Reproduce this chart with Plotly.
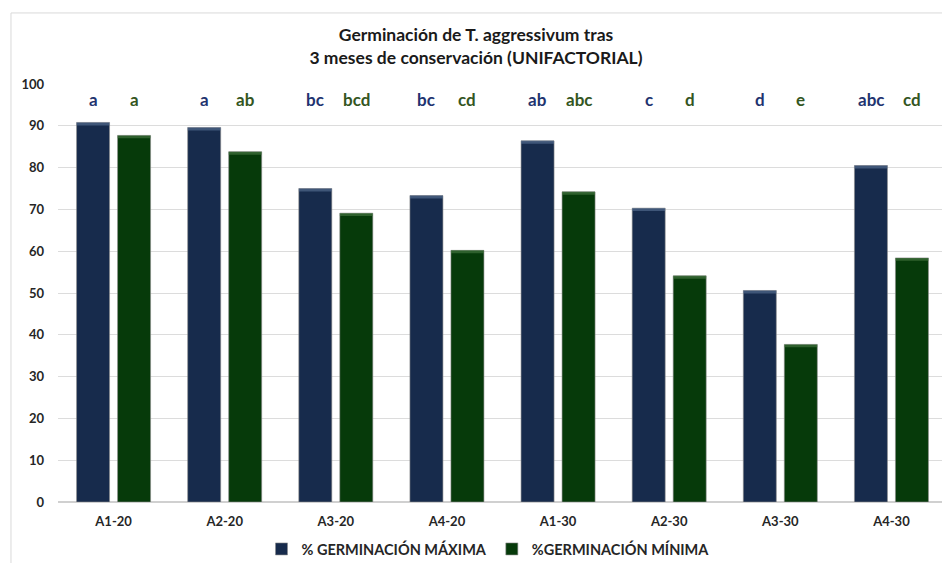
import plotly.graph_objects as go

# Treatments and germination percentages
categories = ["A1-20", "A2-20", "A3-20", "A4-20", "A1-30", "A2-30", "A3-30", "A4-30"]
germ_max = [90.8, 89.6, 75.0, 73.3, 86.4, 70.3, 50.6, 80.5]
germ_min = [87.7, 83.8, 69.1, 60.2, 74.2, 54.1, 37.7, 58.4]
letters_max = ["a", "a", "bc", "bc", "ab", "c", "d", "abc"]
letters_min = ["a", "ab", "bcd", "cd", "abc", "d", "e", "cd"]
y_ticks = [0, 10, 20, 30, 40, 50, 60, 70, 80, 90, 100]

BLUE = "#172B4C"
GREEN = "#063A0A"
BLUE_TOP = "#5A7396"
GREEN_TOP = "#4A7A45"
BLUE_TXT = "#1F3470"
GREEN_TXT = "#34561F"
FONT = "Lato"

bar_w = 0.297
gap = 0.072
off_max = -bar_w - gap / 2
off_min = gap / 2
bevel = 0.7

fig = go.Figure()
for name, vals, col, top, off in [
    ("% GERMINACIÓN MÁXIMA", germ_max, BLUE, BLUE_TOP, off_max),
    ("%GERMINACIÓN MÍNIMA", germ_min, GREEN, GREEN_TOP, off_min),
]:
    fig.add_trace(go.Bar(
        x=categories, y=vals, name=name, width=bar_w, offset=off,
        marker=dict(color=col, line=dict(color="#8C8C8C", width=0.6)),
    ))
    # lighter rim along the top of each bar
    fig.add_trace(go.Bar(
        x=categories, y=[bevel] * len(vals), base=[v - bevel for v in vals],
        width=bar_w, offset=off, showlegend=False, hoverinfo="skip",
        marker=dict(color=top, line=dict(width=0)), opacity=0.6,
    ))

# significance letters above each bar
for i, cat in enumerate(categories):
    fig.add_annotation(x=cat, y=96.4, text=f"<b>{letters_max[i]}</b>", showarrow=False,
                       xshift=(off_max + bar_w / 2) * 111, font=dict(family=FONT, size=17, color=BLUE_TXT))
    fig.add_annotation(x=cat, y=96.4, text=f"<b>{letters_min[i]}</b>", showarrow=False,
                       xshift=(off_min + bar_w / 2) * 111, font=dict(family=FONT, size=17, color=GREEN_TXT))

# chart frame (left and top edges)
fig.add_shape(type="line", xref="paper", yref="paper", x0=-0.0532, x1=-0.0532, y0=-0.2, y1=1.17,
              line=dict(color="#D9D9D9", width=1))
fig.add_shape(type="line", xref="paper", yref="paper", x0=-0.0532, x1=1.05, y0=1.17, y1=1.17,
              line=dict(color="#D9D9D9", width=1))

fig.update_layout(
    width=942, height=563,
    margin=dict(l=58, r=0, t=84, b=61, autoexpand=False),
    paper_bgcolor="white", plot_bgcolor="white",
    barmode="overlay",
    title=dict(text="<b>Germinación de T. aggressivum tras<br>3 meses de conservación (UNIFACTORIAL)</b>",
               x=476 / 942, xref="container", xanchor="center",
               y=1 - 41 / 563, yref="container", yanchor="middle",
               font=dict(family=FONT, size=17.5, color="#1A1A1A")),
    font=dict(family=FONT, color="#262626"),
    legend=dict(orientation="h", x=488 / 942, xref="container", xanchor="center",
                y=1 - 549 / 563, yref="container", yanchor="middle",
                font=dict(family=FONT, size=14.5, color="#262626", weight="bold"),
                traceorder="normal"),
    showlegend=True,
)
fig.update_xaxes(range=[-0.5, 7.455], showgrid=False, showline=False, ticks="", automargin=False,
                 tickfont=dict(family=FONT, size=13, color="#262626", weight="bold"), ticklabelstandoff=10)
fig.update_yaxes(range=[0, 100], tickvals=y_ticks, showgrid=True, gridcolor="#DCDCDC", gridwidth=1,
                 zeroline=True, zerolinecolor="#D0D0D0", showline=False, automargin=False,
                 tickfont=dict(family=FONT, size=13, color="#262626", weight="bold"), ticklabelstandoff=13)

fig.write_html("out.html")
